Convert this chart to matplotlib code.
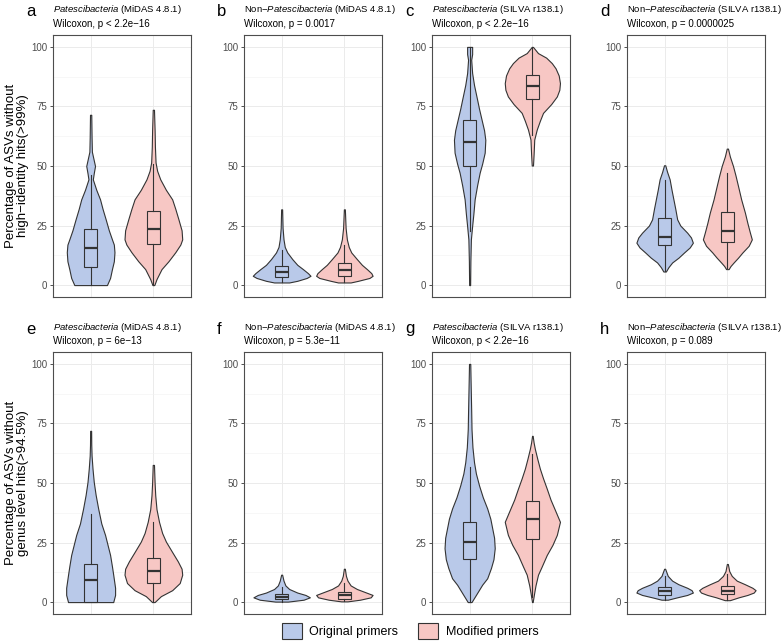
import numpy as np
import matplotlib
matplotlib.use("Agg")
import matplotlib.pyplot as plt
from matplotlib.patches import Patch

plt.rcParams['font.family'] = ['Liberation Sans', 'DejaVu Sans']
plt.rcParams['mathtext.fontset'] = 'custom'
plt.rcParams['mathtext.it'] = 'Liberation Sans:italic'
plt.rcParams['mathtext.rm'] = 'Liberation Sans'

# ---- data (y value, violin half-width) ----
a_orig_y = [0, 3, 6.7, 10, 13.8, 17, 19.2, 23, 27.6, 32, 36, 40, 44.4, 47, 50, 53, 56, 62, 71.5]
a_orig_w = [0.26, 0.31, 0.34, 0.37, 0.38, 0.37, 0.34, 0.29, 0.24, 0.19, 0.15, 0.09, 0.035, 0.05, 0.07, 0.045, 0.02, 0.015, 0.01]
a_orig_box = [0, 7.8, 15.5, 23.7, 46.4]
a_mod_y = [0, 2.5, 6.7, 10, 13.8, 17, 19.2, 23, 27.6, 32, 36, 40, 44.4, 48, 51.5, 58, 65, 73.6]
a_mod_w = [0.015, 0.05, 0.13, 0.24, 0.35, 0.43, 0.46, 0.45, 0.4, 0.35, 0.3, 0.2, 0.11, 0.06, 0.035, 0.025, 0.02, 0.01]
a_mod_box = [0, 17.4, 23.4, 31, 51]

b_orig_y = [1.1, 1.8, 3.0, 3.9, 5, 6.7, 8.5, 10.9, 13.7, 16, 19.2, 24, 31.8]
b_orig_w = [0.12, 0.25, 0.4, 0.46, 0.42, 0.34, 0.25, 0.17, 0.09, 0.05, 0.03, 0.015, 0.008]
b_orig_box = [1.1, 3.6, 5.7, 8.1, 14.8]
b_mod_y = [1.1, 1.8, 3.0, 3.9, 5, 6.7, 8.5, 10.9, 13.7, 16, 19.2, 24, 31.8]
b_mod_w = [0.1, 0.22, 0.4, 0.45, 0.43, 0.36, 0.28, 0.2, 0.11, 0.07, 0.04, 0.02, 0.008]
b_mod_box = [1.1, 3.9, 6.4, 9.2, 17]

c_orig_y = [0, 10, 19.2, 24.8, 30, 36, 42, 47.2, 51, 55.6, 61, 65, 69.5, 74, 77.8, 84, 89, 94.6, 97, 100]
c_orig_w = [0.008, 0.012, 0.02, 0.04, 0.06, 0.08, 0.12, 0.16, 0.2, 0.24, 0.25, 0.23, 0.19, 0.15, 0.12, 0.07, 0.04, 0.025, 0.04, 0.04]
c_orig_box = [22.9, 50.2, 60.1, 69.5, 100]
c_mod_y = [50.2, 55, 61.1, 65.3, 69, 72.3, 76, 79.2, 82, 84.8, 88, 91, 93.2, 95.5, 97.4, 100]
c_mod_w = [0.01, 0.02, 0.03, 0.07, 0.12, 0.17, 0.3, 0.39, 0.43, 0.44, 0.42, 0.37, 0.31, 0.22, 0.09, 0.01]
c_mod_box = [63, 78.2, 83.5, 88.3, 100]

d_orig_y = [5.7, 7.5, 9.5, 11.5, 13.7, 15.8, 17.8, 20, 22, 25, 27.6, 32, 36, 40, 44.4, 47.5, 50.3]
d_orig_w = [0.02, 0.06, 0.12, 0.22, 0.31, 0.4, 0.45, 0.42, 0.36, 0.25, 0.2, 0.17, 0.14, 0.11, 0.08, 0.04, 0.01]
d_orig_box = [6, 16.7, 20.2, 28, 44]
d_mod_y = [6.7, 8, 9.5, 11.5, 13.7, 16.5, 19.2, 22, 26, 30.4, 36, 41.6, 46, 50, 54, 57.3]
d_mod_w = [0.02, 0.05, 0.1, 0.17, 0.24, 0.34, 0.39, 0.36, 0.32, 0.28, 0.22, 0.17, 0.13, 0.09, 0.04, 0.01]
d_mod_box = [7, 18.3, 22.6, 30.7, 47]

e_orig_y = [0, 3, 6, 11.5, 15, 19.8, 24, 28.2, 33, 39.3, 45, 50.4, 56, 61.5, 66, 71.9]
e_orig_w = [0.36, 0.39, 0.39, 0.36, 0.34, 0.31, 0.27, 0.23, 0.17, 0.12, 0.08, 0.05, 0.03, 0.015, 0.01, 0.008]
e_orig_box = [0, 0, 9.2, 16, 37]
e_mod_y = [0, 2.5, 5, 8, 11.5, 14, 17.1, 21, 25.4, 29, 33.7, 39, 44.8, 50, 57.6]
e_mod_w = [0.02, 0.12, 0.3, 0.42, 0.46, 0.45, 0.39, 0.3, 0.2, 0.14, 0.09, 0.05, 0.03, 0.02, 0.01]
e_mod_box = [0, 8, 12.9, 18.5, 33.5]

f_orig_y = [0.2, 1, 2, 3, 4, 5.5, 7, 9, 11.5]
f_orig_w = [0.1, 0.35, 0.45, 0.38, 0.25, 0.12, 0.06, 0.03, 0.008]
f_orig_box = [0.2, 1.2, 2.1, 3.4, 6.5]
f_mod_y = [0.3, 1, 2, 3, 4, 5.5, 7, 9, 11, 14]
f_mod_w = [0.05, 0.25, 0.42, 0.45, 0.35, 0.2, 0.1, 0.05, 0.025, 0.008]
f_mod_box = [0.3, 1.5, 2.8, 4.2, 8]

g_orig_y = [0, 3, 7.3, 10, 14.3, 18, 22.6, 27, 31, 35, 39.3, 44, 49, 54, 58.7, 65, 72.6, 80, 86.5, 93, 100]
g_orig_w = [0.03, 0.1, 0.2, 0.28, 0.34, 0.38, 0.4, 0.39, 0.36, 0.33, 0.28, 0.21, 0.15, 0.1, 0.07, 0.045, 0.03, 0.025, 0.02, 0.015, 0.01]
g_orig_box = [0, 18.2, 25.4, 33.7, 56.8]
g_mod_y = [0, 4, 7, 11.5, 15, 19.8, 24, 28.2, 33.7, 39.3, 43, 47.6, 52, 56, 60, 64.3, 67, 69.8]
g_mod_w = [0.005, 0.03, 0.05, 0.09, 0.15, 0.23, 0.32, 0.39, 0.44, 0.35, 0.29, 0.23, 0.17, 0.12, 0.08, 0.04, 0.02, 0.005]
g_mod_box = [2, 26.5, 34.7, 42.3, 62]

h_orig_y = [1, 2, 3, 4, 5, 6, 7.5, 9, 11, 14]
h_orig_w = [0.05, 0.2, 0.36, 0.45, 0.43, 0.36, 0.22, 0.12, 0.05, 0.008]
h_orig_box = [1, 3, 4.6, 6.5, 11]
h_mod_y = [0.8, 2, 3, 4, 5, 6, 7.5, 9, 11, 13, 16]
h_mod_w = [0.04, 0.18, 0.32, 0.42, 0.45, 0.4, 0.28, 0.15, 0.07, 0.03, 0.008]
h_mod_box = [0.8, 3.2, 4.8, 6.9, 12]

tags = ['a', 'b', 'c', 'd', 'e', 'f', 'g', 'h']
titles = [r'$\it{Patescibacteria}$ (MiDAS 4.8.1)',
          r'Non−$\it{Patescibacteria}$ (MiDAS 4.8.1)',
          r'$\it{Patescibacteria}$ (SILVA r138.1)',
          r'Non−$\it{Patescibacteria}$ (SILVA r138.1)'] * 2
pvals = ['Wilcoxon, p < 2.2e−16', 'Wilcoxon, p = 0.0017', 'Wilcoxon, p < 2.2e−16',
         'Wilcoxon, p = 0.0000025', 'Wilcoxon, p = 6e−13', 'Wilcoxon, p = 5.3e−11',
         'Wilcoxon, p < 2.2e−16', 'Wilcoxon, p = 0.089']
ylabels = ['Percentage of ASVs without\nhigh−identity hits(>99%)',
           'Percentage of ASVs without\ngenus level hits(>94.5%)']
groups = ['Original primers', 'Modified primers']

panels = [
    (a_orig_y, a_orig_w, a_orig_box, a_mod_y, a_mod_w, a_mod_box),
    (b_orig_y, b_orig_w, b_orig_box, b_mod_y, b_mod_w, b_mod_box),
    (c_orig_y, c_orig_w, c_orig_box, c_mod_y, c_mod_w, c_mod_box),
    (d_orig_y, d_orig_w, d_orig_box, d_mod_y, d_mod_w, d_mod_box),
    (e_orig_y, e_orig_w, e_orig_box, e_mod_y, e_mod_w, e_mod_box),
    (f_orig_y, f_orig_w, f_orig_box, f_mod_y, f_mod_w, f_mod_box),
    (g_orig_y, g_orig_w, g_orig_box, g_mod_y, g_mod_w, g_mod_box),
    (h_orig_y, h_orig_w, h_orig_box, h_mod_y, h_mod_w, h_mod_box),
]

colors = ['#B9C9E9', '#F7C7C4']
edge = '#333333'

W, H = 784, 642
fig = plt.figure(figsize=(W / 100, H / 100), dpi=100)

col_left = [53, 244, 432, 627]
col_w = 138
row_top = [35, 352]
row_h = 262

for i, pdata in enumerate(panels):
    r, c = divmod(i, 4)
    x0 = col_left[c]
    ax = fig.add_axes([x0 / W, 1 - (row_top[r] + row_h) / H, col_w / W, row_h / H])
    ax.set_ylim(-5, 105)
    ax.set_yticks([0, 25, 50, 75, 100])
    ax.set_yticks([12.5, 37.5, 62.5, 87.5], minor=True)
    ax.tick_params(axis='x', length=0)
    ax.tick_params(axis='y', which='major', length=2.5, width=0.6, color='#333333',
                   labelsize=7, labelcolor='#4D4D4D', pad=1.5)
    ax.tick_params(axis='y', which='minor', length=0)
    ax.grid(True, which='major', color='#EBEBEB', lw=0.7)
    ax.grid(True, which='minor', axis='y', color='#F2F2F2', lw=0.4)
    ax.set_axisbelow(True)
    for s in ax.spines.values():
        s.set_color('#4D4D4D')
        s.set_linewidth(0.8)

    for k in range(2):
        ys = np.array(pdata[3 * k])
        ws = np.array(pdata[3 * k + 1])
        bx = pdata[3 * k + 2]
        stats = [dict(coords=ys, vals=ws, mean=np.mean(ys), median=bx[2],
                      min=ys[0], max=ys[-1])]
        parts = ax.violin(stats, positions=[k + 1], widths=2 * ws.max(),
                          showextrema=False)
        for body in parts['bodies']:
            body.set_facecolor(colors[k])
            body.set_edgecolor(edge)
            body.set_linewidth(0.8)
            body.set_alpha(1)
        bstat = [dict(whislo=bx[0], q1=bx[1], med=bx[2], q3=bx[3], whishi=bx[4], fliers=[])]
        ax.bxp(bstat, positions=[k + 1], widths=0.2, showcaps=False, showfliers=False,
               patch_artist=True,
               boxprops=dict(facecolor=colors[k], edgecolor=edge, linewidth=0.8),
               whiskerprops=dict(color=edge, linewidth=0.8),
               medianprops=dict(color=edge, linewidth=1.6))
    ax.set_xlim(0.4, 2.6)
    ax.set_xticks([1, 2])
    ax.set_xticklabels([])

    top_px = row_top[r]
    fig.text(x0 / W, 1 - (top_px - 25) / H, titles[i], fontsize=6.8, va='center', ha='left')
    fig.text(x0 / W, 1 - (top_px - 11) / H, pvals[i], fontsize=7, va='center', ha='left')
    fig.text((x0 - 27) / W, 1 - (top_px - 23) / H, tags[i], fontsize=12, va='center', ha='left')

for r in range(2):
    fig.text(17 / W, 1 - (row_top[r] + row_h / 2) / H, ylabels[r], rotation=90,
             fontsize=9.5, ha='center', va='center', linespacing=1.0)

handles = [Patch(facecolor=colors[k], edgecolor=edge, linewidth=0.8, label=groups[k]) for k in range(2)]
fig.legend(handles=handles, loc='center', bbox_to_anchor=(410 / W, 1 - 631 / H), ncol=2,
           frameon=False, fontsize=9, handlelength=1.6, handleheight=1.6,
           columnspacing=1.6, handletextpad=0.6)

fig.savefig('out.png', dpi=100)
